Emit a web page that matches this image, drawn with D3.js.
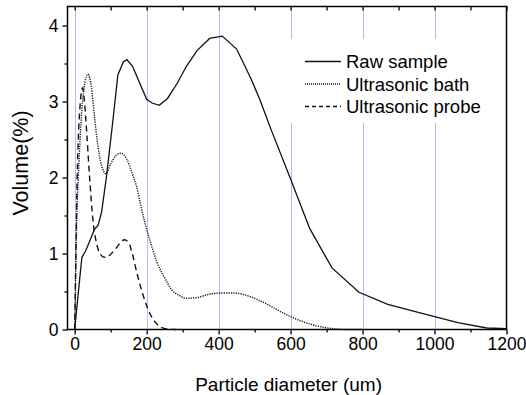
<!DOCTYPE html>
<html>
<head>
<meta charset="utf-8">
<script src="https://cdn.jsdelivr.net/npm/d3@7"></script>
<style>
  html, body { margin: 0; padding: 0; background: #fff; }
  svg { display: block; font-family: "Liberation Sans", Arial, sans-serif; }
</style>
</head>
<body>
<svg id="chart" width="526" height="395"></svg>
<script>
// Particle size distributions: [diameter (um), volume (%)]
const rawSample = [
  [0, 0], [7, 0.34], [20, 0.95], [30, 1.03], [45, 1.2], [55, 1.32], [65, 1.37],
  [75, 1.55], [88, 2.0], [105, 2.7], [120, 3.35], [135, 3.52], [145, 3.55],
  [160, 3.47], [180, 3.25], [200, 3.03], [215, 2.98], [235, 2.95], [258, 3.04],
  [285, 3.24], [310, 3.46], [340, 3.67], [375, 3.83], [410, 3.86], [450, 3.69],
  [490, 3.3], [515, 3.02], [545, 2.64], [600, 1.98], [653, 1.33], [715, 0.81],
  [790, 0.49], [870, 0.33], [1000, 0.17], [1065, 0.09], [1145, 0.02], [1200, 0.01]
];
const ultrasonicBath = [
  [0, 0], [3, 0.8], [6, 1.5], [10, 2.0], [15, 2.5], [20, 2.9], [28, 3.24],
  [37, 3.36], [46, 3.2], [55, 2.8], [65, 2.4], [75, 2.15], [87, 2.05],
  [100, 2.18], [115, 2.29], [128, 2.32], [145, 2.24], [160, 2.05], [172, 1.88],
  [185, 1.6], [200, 1.32], [215, 1.08], [230, 0.87], [250, 0.68], [270, 0.52],
  [290, 0.45], [310, 0.41], [340, 0.42], [370, 0.46], [405, 0.48], [440, 0.48],
  [470, 0.46], [500, 0.41], [540, 0.32], [570, 0.24], [600, 0.17], [630, 0.11],
  [655, 0.07], [690, 0.03], [720, 0.01], [760, 0], [800, 0]
];
const ultrasonicProbe = [
  [0, 0], [3, 0.9], [6, 1.8], [10, 2.5], [15, 2.95], [22, 3.18], [28, 2.95],
  [34, 2.55], [40, 2.1], [46, 1.7], [52, 1.38], [60, 1.15], [70, 1.0],
  [82, 0.95], [95, 0.97], [110, 1.04], [125, 1.13], [138, 1.18], [150, 1.14],
  [160, 1.0], [170, 0.8], [182, 0.58], [195, 0.38], [210, 0.2], [225, 0.09],
  [240, 0.03], [260, 0.005], [280, 0]
];

const seriesNames = ["Raw sample", "Ultrasonic bath", "Ultrasonic probe"];
const xMajorTicks = [0, 200, 400, 600, 800, 1000, 1200];
const xMinorTicks = [100, 300, 500, 700, 900, 1100];
const yMajorTicks = [0, 1, 2, 3, 4];
const yMinorTicks = [0.5, 1.5, 2.5, 3.5];
const gridTicks = [0, 200, 400, 600, 800, 1000];

const svg = d3.select("#chart");
const plotLeft = 67.5, plotRight = 506.5, plotTop = 6.5, plotBottom = 329.5;

const x = d3.scaleLinear().domain([-20, 1200]).range([plotLeft, plotRight]);
const y = d3.scaleLinear().domain([0, 4.25]).range([plotBottom, plotTop]);

// vertical dotted grid, snapped to the pixel grid so the dots stay crisp
svg.append("g").selectAll("line").data(gridTicks).join("line")
  .attr("x1", d => Math.round(x(d)) + 0.5).attr("x2", d => Math.round(x(d)) + 0.5)
  .attr("y1", plotTop).attr("y2", plotBottom)
  .attr("stroke", "#6e6eff").attr("stroke-width", 1)
  .attr("stroke-dasharray", "1,1");

// legend background hides the grid behind it
svg.append("rect").attr("x", 282).attr("y", 39).attr("width", 222).attr("height", 84)
  .attr("fill", "#fff");

// axes
const fmt = d3.format("d");
svg.append("g").attr("transform", `translate(0,${plotBottom})`)
  .call(d3.axisBottom(x).tickValues(xMajorTicks).tickSize(5).tickPadding(3).tickFormat(fmt));
svg.append("g").attr("transform", `translate(0,${plotBottom})`)
  .call(d3.axisBottom(x).tickValues(xMinorTicks).tickSize(3).tickFormat(""));
svg.append("g").attr("transform", `translate(${plotLeft},0)`)
  .call(d3.axisLeft(y).tickValues(yMajorTicks).tickSize(5).tickPadding(4).tickFormat(fmt));
svg.append("g").attr("transform", `translate(${plotLeft},0)`)
  .call(d3.axisLeft(y).tickValues(yMinorTicks).tickSize(3).tickFormat(""));
svg.append("g").attr("transform", `translate(0,${plotTop})`)
  .call(d3.axisBottom(x).tickValues(xMajorTicks.concat(xMinorTicks)).tickSize(4).tickFormat(""));

svg.selectAll(".domain").remove();
svg.selectAll(".tick line").attr("stroke", "#000").attr("stroke-width", 1.3);
svg.selectAll(".tick text").attr("font-size", 17.5).attr("fill", "#000")
  .attr("font-family", "'Liberation Sans', Arial, sans-serif");

// frame
svg.append("rect").attr("x", plotLeft).attr("y", plotTop)
  .attr("width", plotRight - plotLeft).attr("height", plotBottom - plotTop)
  .attr("fill", "none").attr("stroke", "#000").attr("stroke-width", 1.5);

// curves
const lineLinear = d3.line().x(d => x(d[0])).y(d => y(d[1]));
const lineSmooth = d3.line().x(d => x(d[0])).y(d => y(d[1])).curve(d3.curveMonotoneX);

const styles = [
  { data: rawSample, gen: lineLinear, dash: null, width: 1.3 },
  { data: ultrasonicBath, gen: lineSmooth, dash: "1.2,1.2", width: 1.4 },
  { data: ultrasonicProbe, gen: lineSmooth, dash: "6,4", width: 1.4 }
];
styles.forEach(s => {
  svg.append("path").datum(s.data)
    .attr("d", s.gen)
    .attr("fill", "none").attr("stroke", "#111")
    .attr("stroke-width", s.width)
    .attr("stroke-dasharray", s.dash);
});

// legend
const legendDash = [null, "1,1", "4,3"];
const lg = svg.append("g");
seriesNames.forEach((name, i) => {
  const cy = 61.5 + i * 22.5;
  lg.append("line").attr("x1", 305).attr("x2", 341).attr("y1", cy).attr("y2", cy)
    .attr("stroke", "#111").attr("stroke-width", 1.3)
    .attr("stroke-dasharray", legendDash[i]);
  lg.append("text").attr("x", 346).attr("y", cy + 6.5)
    .attr("font-size", 18.5).attr("fill", "#000").text(name);
});

// axis titles
svg.append("text").attr("x", (x(0) + x(1200)) / 2 - 2).attr("y", 391)
  .attr("text-anchor", "middle").attr("font-size", 19).attr("fill", "#000")
  .text("Particle diameter (um)");
svg.append("text")
  .attr("transform", `translate(28,${163}) rotate(-90)`)
  .attr("text-anchor", "middle").attr("font-size", 21.5).attr("fill", "#000")
  .text("Volume(%)");
</script>
</body>
</html>
